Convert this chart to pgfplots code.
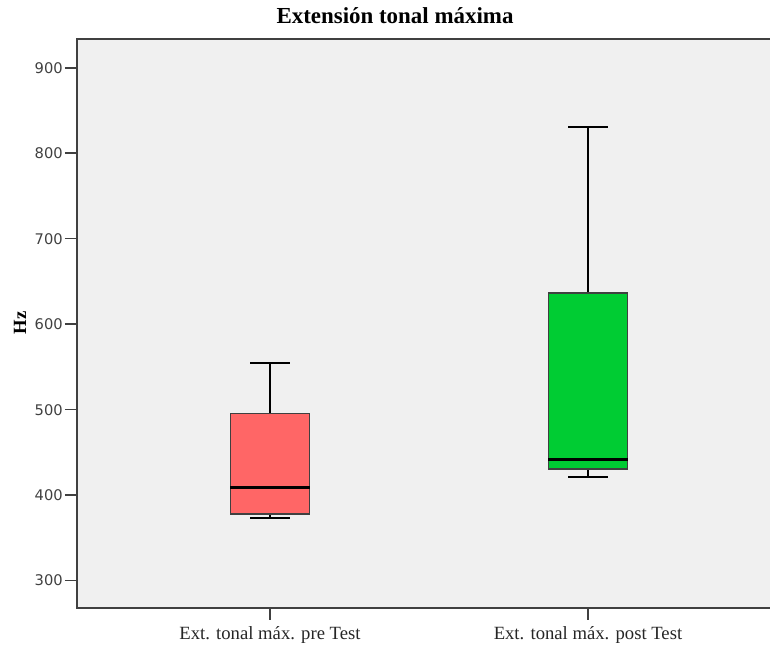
\documentclass[border=0pt]{standalone}
\usepackage{pgfplots}
\pgfplotsset{compat=1.18}
\usepgfplotslibrary{statistics}
\usepackage{fontspec}
\setmainfont{Liberation Serif}
\newfontfamily\tickfont{DejaVu Sans}
\definecolor{panel}{HTML}{F0F0F0}
\definecolor{prebox}{HTML}{FF6666}
\definecolor{postbox}{HTML}{00CC33}
\definecolor{framegray}{HTML}{404040}

\begin{document}
\begin{tikzpicture}[x=1pt,y=1pt]
\useasboundingbox (0,0) rectangle (577.5,486);
\begin{axis}[
  at={(57.75pt,30pt)}, anchor=south west,
  scale only axis, width=530pt, height=426.75pt,
  xmin=0.3931, xmax=2.6154, ymin=268, ymax=933.6,
  axis background/.style={fill=panel},
  axis line style={framegray, line width=1.2pt},
  xtick={1,2},
  xticklabels={Ext. tonal máx. pre Test, Ext. tonal máx. post Test},
  ytick={300,400,...,900},
  tick align=outside, major tick length=9pt,
  tick style={framegray, line width=1.2pt},
  xtick pos=left, ytick pos=left,
  xticklabel style={font=\fontsize{14}{15}\selectfont, text=black!85, yshift=-1.5pt},
  yticklabel style={font=\tickfont\fontsize{11}{12}\selectfont, text=black!75, inner xsep=1.5pt},
  /pgf/number format/assume math mode=true,
  boxplot/draw direction=y,
  boxplot/every whisker/.style={black, line width=1.3pt},
  boxplot/every median/.style={black, line width=2.2pt},
]
% pre-test distribution
\addplot[draw=framegray, fill=prebox, line width=1pt,
  boxplot/every box/.style={draw=framegray, fill=prebox, line width=1pt},
  boxplot prepared={draw position=1,
    lower whisker=373.7, lower quartile=378, median=409.2,
    upper quartile=495.3, upper whisker=555,
    box extend=0.25, whisker extend=0.125}] coordinates {};
% post-test distribution
\addplot[draw=framegray, fill=postbox, line width=1pt,
  boxplot/every box/.style={draw=framegray, fill=postbox, line width=1pt},
  boxplot prepared={draw position=2,
    lower whisker=421.6, lower quartile=430.6, median=442,
    upper quartile=636.5, upper whisker=830.3,
    box extend=0.25, whisker extend=0.125}] coordinates {};
\end{axis}
\node[anchor=base, font=\bfseries\fontsize{17.2}{19}\selectfont] at (296.25,468.5) {Extensión tonal máxima};
\node[rotate=90, font=\bfseries\fontsize{14}{15}\selectfont] at (15,243.75) {Hz};
\end{tikzpicture}
\end{document}
